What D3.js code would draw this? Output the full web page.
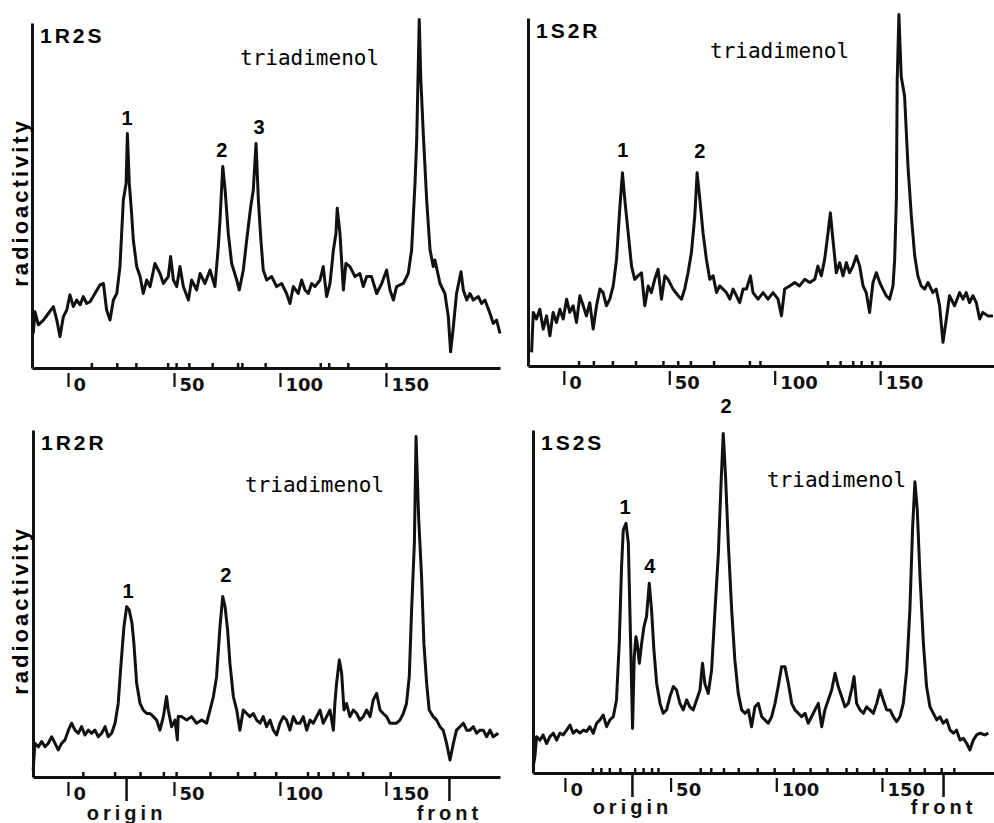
<!DOCTYPE html>
<html>
<head>
<meta charset="utf-8">
<script src="https://cdn.jsdelivr.net/npm/d3@7"></script>
<style>
  body { margin: 0; background: #fff; }
  svg { display: block; }
  .trace { fill: none; stroke: #111; stroke-width: 3; stroke-linejoin: round; }
  .name { font: bold 21px "Liberation Sans", Arial, sans-serif; letter-spacing: 3px; }
  .compound { font: 21px "DejaVu Sans Mono", monospace; }
  .ylab { font: bold 22px "Liberation Sans", Arial, sans-serif; letter-spacing: 3px; }
  .peak { font: bold 20px "Liberation Sans", Arial, sans-serif; }
</style>
</head>
<body>
<svg width="994" height="823"></svg>
<script>
// distance scale labels (mm), same on every panel
var tickLabels = [0, 50, 100, 150];
var panelNames = ['1R2S', '1S2R', '1R2R', '1S2S'];

// traces: [distance, relative radioactivity]
var trace1R2S = [[-16.4,10],[-15.6,16.3],[-14,12.5],[-11.6,13.9],[-9.3,15.8],[-6.9,17.8],[-5.3,13.9],[-3.8,9.1],[-2.2,14.9],[-0.6,16.8],
  [0.9,21.2],[2.5,17.8],[4.1,19.7],[5.7,18.3],[7.2,20.7],[8.8,18.7],[10.4,19.2],[12.7,21.6],[15.1,24.1],[16.7,24.5],[18.2,16.8],[19.8,13.9],
  [21.4,19.7],[23,21.6],[24.5,29.4],[26.1,48.7],[27.4,53.5],[28,68],[28.9,53.5],[30,44.8],[30.8,37.1],[32.4,29.4],[34,26.5],[35.5,21.6],
  [37.1,25.5],[38.7,23.6],[41,30.3],[43.4,27.4],[45,24.5],[47.3,26.5],[48.4,32.3],[49.7,25.5],[51.3,23.6],[52.8,29.4],[54.4,23.6],[56.8,19.7],
  [58.3,25.5],[60.7,22.6],[62.3,27.4],[64.6,24.5],[67,28.4],[69.3,23.6],[70.9,35.2],[71.7,42.9],[73,58.4],[74.1,51.6],[75.6,39],[77.2,30.3],
  [79.6,25.5],[80.8,22.6],[82.7,28.4],[84.3,37.1],[86.2,46.8],[87.4,51.6],[88.7,65.1],[89.8,48.7],[91,37.1],[92.1,28.4],[93.7,25.5],[96.1,26.5],
  [98.4,23.6],[100.8,24.5],[103.1,21.6],[104.7,18.7],[106.3,23.6],[108.6,21.6],[110.2,25.5],[111.8,22.6],[113.4,21.6],[114.9,24.5],[116.5,23.6],
  [118.9,25.5],[120.4,29.4],[122,20.7],[123.6,24.5],[125.2,34.2],[126.4,39],[127,46.3],[128.3,39],[129.9,22.6],[131.1,30.3],[133,29.4],
  [135.4,26.5],[137.7,27.4],[139.3,23.6],[140.9,26.5],[143.2,26.5],[145.6,21.6],[148,24.5],[150.3,28.4],[151.9,22.6],[153.5,19.7],[155,23.6],
  [158.2,24.5],[160.5,27.4],[162.1,34.2],[163.7,53.5],[164.5,66.1],[165.7,101],[166.4,84.4],[167.6,68],[169.2,48.7],[170.8,34.2],[172.3,29.4],
  [173.1,31.3],[175.5,24.5],[177.8,21.6],[179.4,14.9],[180.5,4.7],[181.8,12],[183.3,21.6],[185.4,27.9],[186.5,22.6],[188.1,19.7],[189.6,21.6],
  [191.2,19.7],[193.6,20.7],[195.1,18.7],[196.7,19.7],[199.1,15.8],[200.6,12.9],[202.2,13.9],[203.8,10]];

var trace1S2R = [[-15.3,3.9],[-14.5,15.4],[-13,13.5],[-11.4,16.3],[-9.8,10.6],[-8.2,14.4],[-6.6,8.7],[-5.1,15.4],[-3.5,12.5],[-1.9,16.3],
  [-0.3,13.5],[1.3,19.2],[2.8,15.4],[4.4,17.3],[6,12.5],[7.6,20.2],[9.2,17.3],[10.7,14.4],[12.3,18.2],[13.9,10.6],[15.5,17.3],[17.1,22.1],
  [18.6,21.1],[20.2,17.3],[21.8,19.2],[23.4,23],[25,30.7],[26.5,45],[27.8,55.5],[28.9,47.9],[30.5,38.3],[32.1,28.7],[33.6,24.9],[35.2,25.9],
  [36.8,26.8],[38.4,17.3],[40,23],[41.5,21.1],[43.1,24.9],[44.7,27.8],[46.3,19.2],[47.9,25.9],[49.4,24.9],[51.8,22.1],[54.2,20.2],[55.8,19.2],
  [57.3,22.1],[58.9,26.8],[60.5,32.6],[62.1,43.1],[63.2,55.5],[64.5,47.9],[66,38.3],[67.6,30.7],[69.2,24.9],[70.8,25.9],[72.4,21.1],[73.9,23],
  [75.5,22.1],[77.1,21.1],[78.7,19.2],[80.3,22.1],[81.8,20.2],[83.4,18.2],[85,22.1],[86.6,22.1],[88.5,25.9],[89.7,21.1],[92.1,19.2],[94.5,21.1],
  [96.8,19.2],[99.2,21.1],[101.6,19.2],[103.2,14.4],[104.7,22.1],[107.1,23],[109.5,24],[111.8,23],[114.2,24.9],[116.6,24],[119,24.9],[120.5,28.7],
  [122.1,25.9],[123.7,30.7],[125.3,38.3],[126.4,44],[127.6,36.4],[129.2,26.8],[130.8,29.7],[132.4,25.9],[134,29.7],[135.5,26.8],[137.1,28.7],
  [138.7,31.6],[140.3,28.7],[141.9,23],[143.4,21.1],[145,15.4],[146.6,24],[148.2,26.8],[149.8,24],[151.3,22.1],[152.9,20.2],[154.5,19.2],
  [156.1,23],[156.9,30.7],[157.7,47.9],[158.1,82.2],[158.9,101],[160,83.2],[161.6,77.5],[163.2,57.4],[164.8,43.1],[166.4,31.6],[167.9,25.9],
  [169.5,23],[171.1,22.1],[172.7,24],[175,21.1],[176.6,22.1],[178.2,17.3],[179.8,6.8],[181.4,13.5],[182.9,20.2],[185.3,17.3],[187.7,21.1],
  [189.3,19.2],[190.8,21.1],[192.4,18.2],[194,20.2],[195.6,18.2],[197.2,13.5],[198.7,15.4],[201.1,14.4],[203.5,14.4]];

var trace1R2R = [[-16.4,2],[-15.6,9.7],[-14,8.7],[-12.4,10.2],[-10.8,8.7],[-9.3,9.7],[-7.7,11.6],[-6.1,9.7],[-4.6,7.8],[-3,9.7],[-1.4,10.7],
  [0.2,13.5],[1.7,15.5],[3.3,13.5],[4.9,12.6],[6.4,14.5],[8,12.1],[9.6,13.5],[11.2,12.6],[12.7,13.5],[14.3,11.6],[15.9,12.6],[17.5,14.5],
  [19,11.6],[20.6,12.6],[22.2,15.5],[23.7,21.2],[24.8,30.8],[26.4,43.3],[27.7,49.1],[28.9,48.1],[30.2,44.3],[31.1,38.5],[32.4,27],[34,21.2],
  [35.5,19.3],[37.1,18.3],[38.7,18.3],[40.3,17.4],[41.8,16.4],[43.4,13.5],[45,17.4],[46.5,23.2],[47.3,19.3],[48.9,14.5],[50.5,16.4],[51.6,10.7],
  [52,17.4],[53.6,17.4],[56,16.4],[58.3,17.4],[60.7,15.5],[63.1,16.4],[65.4,15.5],[67,19.3],[68.6,23.2],[70.1,28.9],[71.7,43.3],[73,52],
  [74.1,49.1],[75.3,42.4],[76.4,32.8],[78,23.2],[79.6,19.3],[81.1,13.5],[82.7,19.3],[84.3,18.3],[85.8,17.4],[87.4,18.3],[89,16.4],[90.6,15.5],
  [92.1,17.4],[93.7,14.5],[95.3,16.4],[96.9,13.5],[98.4,12.1],[100,15.5],[101.6,17.4],[103.1,16.4],[104.7,13.5],[106.3,17.4],[107.9,15.5],
  [109.4,15.5],[111,17.4],[112.6,13.5],[114.2,16.4],[115.7,15.5],[117.3,17.4],[118.9,19.3],[120.4,15.5],[122,17.4],[123.6,19.3],[125.2,13.5],
  [125.9,21.2],[126.7,27],[128,33.7],[129.1,29.9],[130.2,19.3],[131.4,21.2],[133,17.4],[134.6,19.3],[136.2,18.3],[137.7,16.4],[139.3,17.4],
  [140.9,19.3],[142.5,17.4],[144,22.2],[145.6,24.1],[147.2,19.3],[148.7,18.3],[150.3,17.4],[151.9,15.5],[153.5,15.5],[155,15.5],[156.6,16.4],
  [158.2,18.3],[159.7,21.2],[161,28.9],[162.1,48.1],[163.4,67.3],[164.2,98.1],[165.4,75],[166.8,57.7],[167.9,38.5],[169.2,27],[170.4,19.3],
  [172.3,17.4],[173.9,16.4],[175.5,14.5],[177,13.5],[178.6,9.7],[180.2,4.9],[181.8,9.7],[183.3,13.5],[184.9,14.5],[186.5,15.5],[188.1,13.5],
  [189.6,13.5],[191.2,14.5],[192.8,12.6],[194.3,13.5],[195.9,13.5],[197.5,11.6],[199.1,13.5],[200.6,11.6],[203,12.6]];

var trace1S2S = [[-15,1.8],[-14.2,4.8],[-13.4,10.6],[-11.8,9.6],[-10.3,11.1],[-8.7,8.6],[-7.1,10.6],[-5.5,11.6],[-3.9,9.6],[-2.4,11.6],
  [-0.8,11.1],[0.8,12.5],[2.4,14],[3.9,11.6],[5.5,12.5],[7.1,11.6],[8.7,12.5],[10.3,12.1],[11.8,13.5],[13.4,11.6],[15,14.5],[16.6,15.5],
  [18.1,16.9],[19.7,13.5],[21.3,15.5],[22.9,16.4],[24.4,21.3],[25.7,37.8],[26.8,60.2],[27.6,70.8],[28.9,72.8],[30,67],[31.1,37.8],[32,13],
  [32.8,33.9],[33.6,39.7],[34.2,37.8],[35.2,32],[36.3,37.8],[37.4,42.7],[38.6,45.6],[39.9,55.3],[41,47.5],[42.1,35.9],[43.4,26.1],[45,20.3],
  [46.5,17.4],[48.1,18.4],[49.7,22.3],[51.3,25.2],[52.8,24.2],[54.4,20.3],[56,18.4],[57.6,21.3],[59.1,19.3],[60.7,18.4],[62.3,21.3],[63.9,24.2],
  [65.1,32],[66.2,26.1],[67.8,23.2],[69.4,30],[71,47.5],[72.6,64],[73.8,83.5],[74.9,99],[76,86.4],[77.3,67],[78.9,47.5],[80.4,32.9],[82,23.2],
  [83.6,18.4],[85.2,17.4],[86.8,18.4],[88.3,13.5],[89.9,19.3],[91.5,20.3],[93.1,16.4],[94.6,15.5],[96.2,14.5],[97.8,16.4],[99.4,20.3],[100.9,25.2],
  [102.5,31],[104.1,31],[105.7,26.1],[107.3,20.3],[108.8,18.4],[110.4,17.4],[112,16.4],[113.6,17.4],[115.1,14.5],[116.7,16.4],[118.3,18.4],
  [119.9,20.3],[121.5,13.5],[123,18.4],[124.6,21.3],[126.2,24.2],[127.8,29.1],[129.3,25.2],[130.9,22.3],[132.5,19.3],[134.1,20.3],[135.6,24.2],
  [136.8,28.1],[138,20.3],[139.6,18.4],[141.2,17.4],[142.7,19.3],[144.3,18.4],[145.9,17.4],[147.5,20.3],[149.1,24.2],[150.6,21.3],[152.2,18.4],
  [153.8,18.4],[155.4,16.4],[156.9,15],[158.5,16.4],[160.1,20.3],[161.7,30],[163.2,47.5],[164.5,71.8],[165.6,84.9],[166.7,76.7],[168,57.2],
  [169.6,37.8],[171.1,25.2],[172.7,19.3],[174.3,17.4],[175.9,15.5],[177.4,16.4],[179,14.5],[180.6,15.5],[182.2,12.5],[183.8,11.6],[185.3,12.5],
  [186.9,9.6],[188.5,10.1],[190.1,8.6],[191.6,6.7],[193.2,9.6],[194.8,11.1],[196.4,11.6],[198.7,11.1],[200.3,11.6]];

// small channel marks along each distance axis
var marks1R2S = [11, 23, 32, 47, 51, 57, 68, 80, 82, 93, 119, 123, 132, 150];
var marks1S2R = [7, 14, 23, 34, 47, 54, 60, 71, 88, 93, 125, 131, 137, 141, 146, 150];
var marks1R2R = [7, 22, 34, 45, 51, 67, 80, 88, 98, 113, 118, 125, 132, 139, 152];
var marks1S2S = [13, 17, 21, 26, 33, 37, 41, 44, 64, 69, 75, 82, 91, 99, 108, 116, 124, 133, 138, 146, 152, 163, 170, 178, 184];

// origin / solvent front positions (bottom panels)
var start1R2R = [27.4, 179.7];
var start1S2S = [31.7, 178.9];

// numbered peaks: [label, distance, height of label]
var peaks1R2S = [['1', 27.8, 70.4], ['2', 72.6, 61.2], ['3', 90.1, 67.8]];
var peaks1S2R = [['1', 28.0, 60.2], ['2', 64.5, 59.9]];
var peaks1R2R = [['1', 28.3, 51.6], ['2', 74.5, 56.2]];
var peaks1S2S = [['1', 28.4, 75.5], ['4', 40.2, 58.3], ['2', 76.2, 105]];

var svg = d3.select('svg');

// layout of the four panels
var panels = [
  { name: panelNames[0], trace: trace1R2S, marks: marks1R2S, peaks: peaks1R2S, dom: [-17, 203.8], x0: 32, x1: 500, top: 23, base: 368,
    ylab: true, cmp: [240, 65] },
  { name: panelNames[1], trace: trace1S2R, marks: marks1S2R, peaks: peaks1S2R, dom: [-17, 204], x0: 528, x1: 994, top: 18, base: 366,
    ylab: false, cmp: [710, 58] },
  { name: panelNames[2], trace: trace1R2R, marks: marks1R2R, peaks: peaks1R2R, dom: [-16.5, 203.8], x0: 33, x1: 500, top: 430, base: 777,
    ylab: true, cmp: [245, 492], ends: start1R2R, endPad: 5 },
  { name: panelNames[3], trace: trace1S2S, marks: marks1S2S, peaks: peaks1S2S, dom: [-15.1, 203], x0: 533, x1: 994, top: 430, base: 773,
    ylab: false, cmp: [767, 487], ends: start1S2S, endPad: 3 }
];

panels.forEach(function (p) {
  var x = d3.scaleLinear().domain(p.dom).range([p.x0, p.x1]);
  var y = d3.scaleLinear().domain([0, 100]).range([p.base, p.top]);
  var g = svg.append('g');

  // y axis (plain line)
  var ya = g.append('g').attr('transform', 'translate(' + p.x0 + ',0)')
    .call(d3.axisLeft(y).tickValues([]).tickSizeOuter(0));
  ya.select('.domain').attr('stroke', '#111').attr('stroke-width', 3);

  // x axis line with small channel marks
  var xa = g.append('g').attr('transform', 'translate(0,' + p.base + ')')
    .call(d3.axisBottom(x).tickValues(p.marks).tickSize(-5).tickSizeOuter(0).tickFormat(''));
  xa.select('.domain').attr('stroke', '#111').attr('stroke-width', 3);
  xa.selectAll('.tick line').attr('stroke', '#111').attr('stroke-width', 2.5);

  // numbered distance labels, tick drawn like a short stroke in the label row
  var la = g.append('g').attr('transform', 'translate(0,' + p.base + ')')
    .call(d3.axisBottom(x).tickValues(tickLabels).tickSize(19).tickPadding(-9).tickSizeOuter(0));
  la.select('.domain').remove();
  la.selectAll('.tick line').attr('y1', 5).attr('stroke', '#111').attr('stroke-width', 2.2);
  la.selectAll('.tick text').attr('text-anchor', 'start').attr('x', 5)
    .attr('fill', '#111').style('font', 'bold 18px "DejaVu Sans", sans-serif');

  if (p.ends) {
    var ea = g.append('g').attr('transform', 'translate(0,' + p.base + ')')
      .call(d3.axisBottom(x).tickValues(p.ends).tickSize(24).tickPadding(p.endPad).tickSizeOuter(0)
        .tickFormat(function (d, i) { return i === 0 ? 'origin' : 'front'; }));
    ea.select('.domain').remove();
    ea.selectAll('.tick line').attr('stroke', '#111').attr('stroke-width', 2.5);
    ea.selectAll('.tick text').attr('fill', '#111')
      .style('font', 'bold 20px "Liberation Sans", Arial, sans-serif').style('letter-spacing', '4px');
  }

  g.append('path').datum(p.trace).attr('class', 'trace')
    .attr('d', d3.line().x(function (d) { return x(d[0]); }).y(function (d) { return y(d[1]); }));

  g.selectAll('.peak').data(p.peaks).enter().append('text')
    .attr('class', 'peak').attr('text-anchor', 'middle')
    .attr('x', function (d) { return x(d[1]); })
    .attr('y', function (d) { return y(d[2]); })
    .text(function (d) { return d[0]; });

  g.append('text').attr('class', 'name').attr('x', p.x0 + 8).attr('y', p.top + 20).text(p.name);
  g.append('text').attr('class', 'compound').attr('x', p.cmp[0]).attr('y', p.cmp[1]).text('triadimenol');

  if (p.ylab) {
    g.append('text').attr('class', 'ylab').attr('text-anchor', 'middle')
      .attr('transform', 'translate(28,' + (p.top + (p.base - p.top) * 0.52) + ') rotate(-90)')
      .text('radioactivity');
  }
});
</script>
</body>
</html>
